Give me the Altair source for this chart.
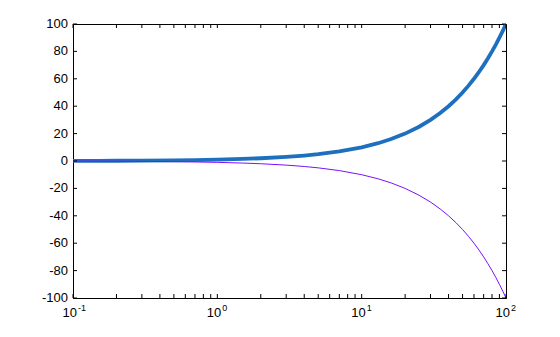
import altair as alt
import pandas as pd

# data
x_vals = [0.1, 0.15, 0.2, 0.3, 0.5, 0.7, 1, 1.5, 2, 3, 4, 5, 7, 10, 13, 16, 20, 25, 30, 35,
          40, 45, 50, 55, 60, 65, 70, 75, 80, 85, 90, 95, 100]
y_up = [0.1, 0.15, 0.2, 0.3, 0.5, 0.7, 1, 1.5, 2, 3, 4, 5, 7, 10, 13, 16, 20, 25, 30, 35,
        40, 45, 50, 55, 60, 65, 70, 75, 80, 85, 90, 95, 100]
y_down = [-0.1, -0.15, -0.2, -0.3, -0.5, -0.7, -1, -1.5, -2, -3, -4, -5, -7, -10, -13, -16, -20, -25, -30, -35,
          -40, -45, -50, -55, -60, -65, -70, -75, -80, -85, -90, -95, -100]

x_major = [0.1, 1, 10, 100]
x_base = ["10", "10", "10", "10"]
x_exp = ["-1", "0", "1", "2"]
x_minor = [0.2, 0.3, 0.4, 0.5, 0.6, 0.7, 0.8, 0.9,
           2, 3, 4, 5, 6, 7, 8, 9,
           20, 30, 40, 50, 60, 70, 80, 90]
y_ticks = [-100, -80, -60, -40, -20, 0, 20, 40, 60, 80, 100]
y_labels = ["-100", "-80", "-60", "-40", "-20", "0", "20", "40", "60", "80", "100"]

FONT = "Liberation Sans"

df = pd.DataFrame({"x": x_vals, "up": y_up, "down": y_down})
xt = pd.DataFrame({"x": x_major + x_minor})
yt = pd.DataFrame({"y": y_ticks, "lab": y_labels})
xl = pd.DataFrame({"x": x_major, "base": x_base, "exp": x_exp})

xscale = alt.Scale(type="log", domain=[0.1, 100], nice=False)
yscale = alt.Scale(domain=[-100, 100], nice=False)

xaxis = alt.Axis(values=x_major, labels=False, title=None, ticks=False,
                 grid=False, domainColor="black")
yaxis = alt.Axis(values=y_ticks, labels=False, title=None, ticks=False,
                 grid=False, domainColor="black")

up = alt.Chart(df).mark_line(color="#1f6fbf", strokeWidth=3.8, clip=True).encode(
    x=alt.X("x:Q", scale=xscale, axis=xaxis),
    y=alt.Y("up:Q", scale=yscale, axis=yaxis),
)
down = alt.Chart(df).mark_line(color="#7b10ff", strokeWidth=1, clip=True).encode(
    x=alt.X("x:Q", scale=xscale, axis=xaxis),
    y=alt.Y("down:Q", scale=yscale, axis=yaxis),
)

tick_bottom = alt.Chart(xt).mark_rule(color="black", strokeWidth=1, y2Offset=-4).encode(
    x=alt.X("x:Q", scale=xscale, axis=xaxis), y=alt.datum(-100), y2=alt.datum(-100))
tick_top = alt.Chart(xt).mark_rule(color="black", strokeWidth=1, y2Offset=4).encode(
    x=alt.X("x:Q", scale=xscale, axis=xaxis), y=alt.datum(100), y2=alt.datum(100))
tick_left = alt.Chart(yt).mark_rule(color="black", strokeWidth=1, x2Offset=4).encode(
    y=alt.Y("y:Q", scale=yscale, axis=yaxis), x=alt.datum(0.1), x2=alt.datum(0.1))
tick_right = alt.Chart(yt).mark_rule(color="black", strokeWidth=1, x2Offset=-4).encode(
    y=alt.Y("y:Q", scale=yscale, axis=yaxis), x=alt.datum(100), x2=alt.datum(100))

ylab = alt.Chart(yt).mark_text(font=FONT, fontSize=13, color="black", align="right",
                               baseline="middle", dx=-5).encode(
    y=alt.Y("y:Q", scale=yscale, axis=yaxis), x=alt.datum(0.1), text="lab:N")

lab_base = alt.Chart(xl).mark_text(font=FONT, fontSize=13, color="black", align="right",
                                   baseline="alphabetic", dx=4, dy=19).encode(
    x=alt.X("x:Q", scale=xscale, axis=xaxis), y=alt.datum(-100), text="base:N")
lab_exp = alt.Chart(xl).mark_text(font=FONT, fontSize=9, color="black", align="left",
                                  baseline="alphabetic", dx=5, dy=13).encode(
    x=alt.X("x:Q", scale=xscale, axis=xaxis), y=alt.datum(-100), text="exp:N")

chart = alt.layer(up, down, tick_bottom, tick_top, tick_left, tick_right,
                  ylab, lab_base, lab_exp).properties(
    width=433, height=274,
    autosize=alt.AutoSizeParams(type="none"),
    padding={"left": 73, "top": 24, "right": 54, "bottom": 39},
    background="white",
).configure_view(stroke="black", strokeWidth=1)

chart.save("out.html", embed_options={"renderer": "svg", "actions": False})
